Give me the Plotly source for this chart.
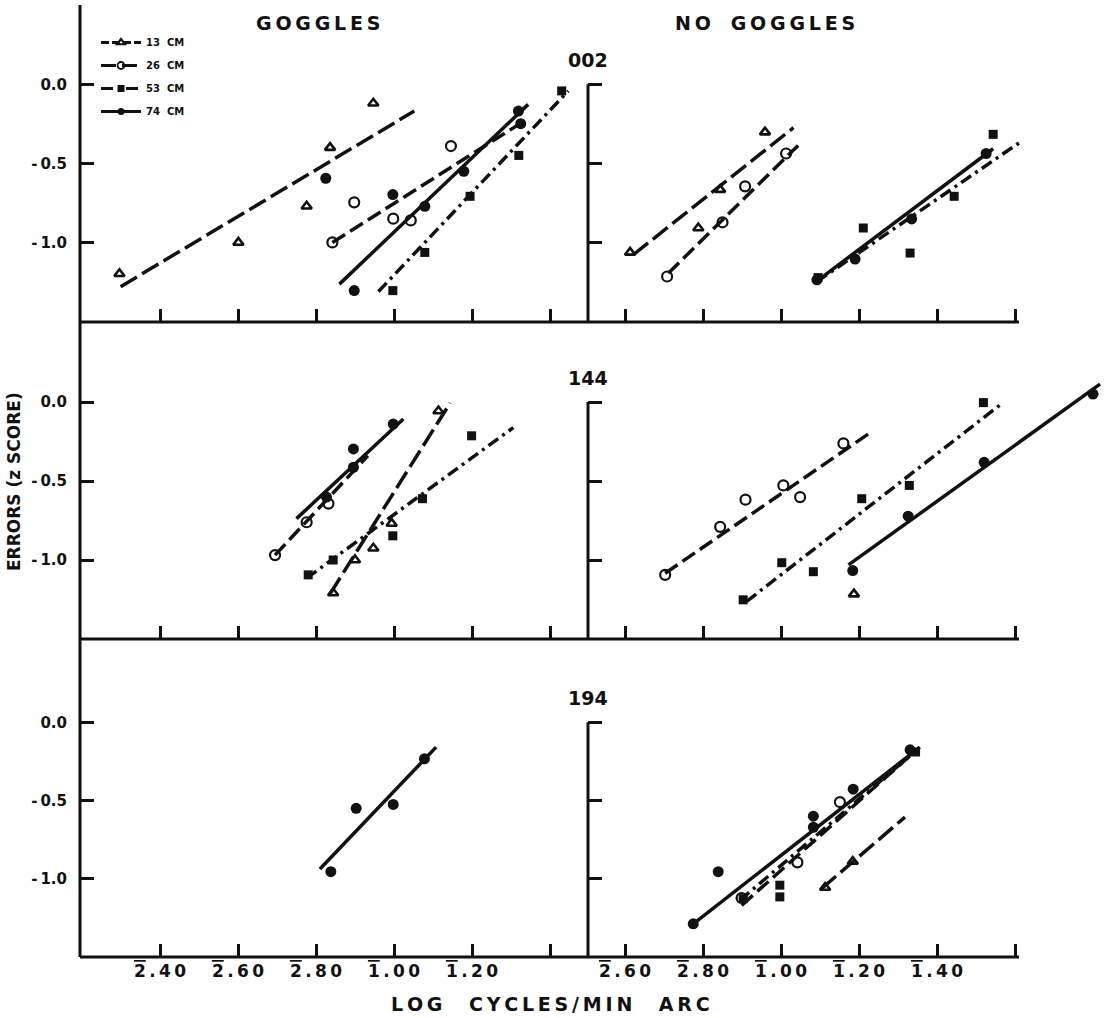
import plotly.graph_objects as go

W, H = 1108, 1018

# ---------------- data: x = log cycles/min arc, y = errors (z score) ----------------
# tick labels (bar-notation logarithms: characteristic digit, rest)
LEFT_TICKVALS = [-1.6, -1.4, -1.2, -1.0, -0.8, -0.6]
LEFT_TICKTEXT = [("2", ".40"), ("2", ".60"), ("2", ".80"), ("1", ".00"), ("1", ".20"), ("", "")]
RIGHT_TICKVALS = [-1.4, -1.2, -1.0, -0.8, -0.6, -0.4]
RIGHT_TICKTEXT = [("2", ".60"), ("2", ".80"), ("1", ".00"), ("1", ".20"), ("1", ".40"), ("", "")]
Y_TICKVALS = [0.0, -0.5, -1.0]
Y_TICKTEXT = ["0.0", "-\u20090.5", "-\u20091.0"]

SERIES = ["13", "26", "53", "74"]
SERIES_NAMES = ["13  CM", "26  CM", "53  CM", "74  CM"]
COLUMNS = ["GOGGLES", "NO GOGGLES"]
SUBJECTS = ["002", "144", "194"]

# --- subject 002, goggles
G002_13_X = [-1.704, -1.399, -1.224, -1.164, -1.053]
G002_13_Y = [-1.196, -0.998, -0.770, -0.400, -0.120]
G002_13_FX = [-1.701, -0.948]
G002_13_FY = [-1.277, -0.169]
G002_26_X = [-1.158, -1.102, -1.002, -0.957, -0.854]
G002_26_Y = [-0.998, -0.745, -0.848, -0.859, -0.390]
G002_26_FX = [-1.158, -0.672]
G002_26_FY = [-0.998, -0.241]
G002_53_X = [-1.003, -0.921, -0.805, -0.680, -0.570]
G002_53_Y = [-1.302, -1.061, -0.707, -0.449, -0.042]
G002_53_FX = [-1.040, -0.553]
G002_53_FY = [-1.308, -0.042]
G002_74_X = [-1.175, -1.102, -1.003, -0.921, -0.821, -0.681, -0.675]
G002_74_Y = [-0.593, -1.302, -0.696, -0.770, -0.549, -0.169, -0.249]
G002_74_FX = [-1.140, -0.656]
G002_74_FY = [-1.261, -0.127]

# --- subject 002, no goggles
N002_13_X = [-1.387, -1.212, -1.156, -1.041]
N002_13_Y = [-1.061, -0.907, -0.665, -0.302]
N002_13_FX = [-1.379, -0.968]
N002_13_FY = [-1.076, -0.274]
N002_26_X = [-1.292, -1.150, -1.092, -0.987]
N002_26_Y = [-1.213, -0.871, -0.644, -0.437]
N002_26_FX = [-1.289, -0.956]
N002_26_FY = [-1.192, -0.386]
N002_53_X = [-0.905, -0.789, -0.669, -0.556, -0.456]
N002_53_Y = [-1.220, -0.907, -1.065, -0.707, -0.316]
N002_53_FX = [-0.908, -0.383]
N002_53_FY = [-1.245, -0.359]
N002_74_X = [-0.908, -0.810, -0.665, -0.474]
N002_74_Y = [-1.234, -1.103, -0.850, -0.437]
N002_74_FX = [-0.913, -0.456]
N002_74_FY = [-1.251, -0.407]

# --- subject 144, goggles
G144_13_X = [-1.156, -1.100, -1.053, -1.006, -0.886]
G144_13_Y = [-1.209, -1.000, -0.926, -0.769, -0.057]
G144_13_FX = [-1.164, -0.856]
G144_13_FY = [-1.214, -0.006]
G144_26_X = [-1.305, -1.224, -1.168]
G144_26_Y = [-0.969, -0.761, -0.643]
G144_26_FX = [-1.305, -1.067]
G144_26_FY = [-0.969, -0.340]
G144_53_X = [-1.220, -1.156, -1.003, -0.927, -0.801]
G144_53_Y = [-1.094, -1.000, -0.847, -0.612, -0.214]
G144_53_FX = [-1.224, -0.694]
G144_53_FY = [-1.115, -0.162]
G144_74_X = [-1.173, -1.104, -1.104, -1.002]
G144_74_Y = [-0.602, -0.297, -0.413, -0.140]
G144_74_FX = [-1.250, -0.976]
G144_74_FY = [-0.738, -0.107]

# --- subject 144, no goggles
N144_13_X = [-0.813]
N144_13_Y = [-1.216]
N144_13_FX = []
N144_13_FY = []
N144_26_X = [-1.297, -1.156, -1.091, -0.994, -0.951, -0.840]
N144_26_Y = [-1.094, -0.790, -0.618, -0.528, -0.602, -0.262]
N144_26_FX = [-1.297, -0.774]
N144_26_FY = [-1.084, -0.199]
N144_53_X = [-1.097, -0.998, -0.917, -0.793, -0.671, -0.481]
N144_53_Y = [-1.252, -1.017, -1.074, -0.612, -0.528, -0.004]
N144_53_FX = [-1.088, -0.434]
N144_53_FY = [-1.262, -0.010]
N144_74_X = [-0.816, -0.674, -0.479, -0.200]
N144_74_Y = [-1.067, -0.723, -0.382, 0.050]
N144_74_FX = [-0.827, -0.182]
N144_74_FY = [-1.031, 0.113]

# --- subject 194, goggles
G194_13_X, G194_13_Y, G194_13_FX, G194_13_FY = [], [], [], []
G194_26_X, G194_26_Y, G194_26_FX, G194_26_FY = [], [], [], []
G194_53_X, G194_53_Y, G194_53_FX, G194_53_FY = [], [], [], []
G194_74_X = [-1.162, -1.097, -1.002, -0.922]
G194_74_Y = [-0.955, -0.550, -0.525, -0.234]
G194_74_FX = [-1.190, -0.892]
G194_74_FY = [-0.938, -0.159]

# --- subject 194, no goggles
N194_13_X = [-0.887, -0.816]
N194_13_Y = [-1.056, -0.890]
N194_13_FX = [-0.896, -0.682]
N194_13_FY = [-1.063, -0.606]
N194_26_X = [-1.101, -0.958, -0.849]
N194_26_Y = [-1.123, -0.895, -0.510]
N194_26_FX = [-1.101, -0.652]
N194_26_FY = [-1.170, -0.176]
N194_53_X = [-1.097, -1.003, -1.003, -0.655]
N194_53_Y = [-1.127, -1.041, -1.116, -0.190]
N194_53_FX = [-1.105, -0.648]
N194_53_FY = [-1.137, -0.170]
N194_74_X = [-1.225, -1.161, -0.917, -0.917, -0.815, -0.669]
N194_74_Y = [-1.288, -0.955, -0.600, -0.671, -0.428, -0.176]
N194_74_FX = [-1.225, -0.644]
N194_74_FY = [-1.288, -0.159]

# ---------------- styling ----------------
FONT = "DejaVu Sans"
BLACK = "#111111"
LW = 3.5
STYLE = {
    "13": dict(symbol="triangle-up-open", size=9, dash="19px,6px", mlw=2.6),
    "26": dict(symbol="circle-open", size=10, dash="15px,6px", mlw=2.2),
    "53": dict(symbol="square", size=9, dash="12px,5px,3px,5px", mlw=0),
    "74": dict(symbol="circle", size=11, dash="solid", mlw=0),
}


def bar_label(parts):
    head, rest = parts
    if not head:
        return ""
    # overline on the characteristic digit, then thin-spaced rest
    return ('<span style="text-decoration:overline">' + head + "</span>"
            + "\u2009" + "\u2009".join(list(rest)))


def spaced(t):
    return "\u2009".join(list(t))


g = globals()
fig = go.Figure()

# axis geometry (pixels of a 1108x1018 canvas)
X_DOM = [[80 / W, 588 / W], [588 / W, 1105 / W]]
X_RANGE = [[-1.6 - 80 / 390, -1.6 + 428 / 390], [-1.4 - 37 / 390, -1.4 + 480 / 390]]
Y_DOM = [[1 - 322 / H, 1 - 5 / H], [1 - 639 / H, 1 - 323 / H], [1 - 957 / H, 1 - 644 / H]]
Y_RANGE = [-1.5, 0.5]

layout = dict(
    width=W, height=H, margin=dict(l=0, r=0, t=0, b=0),
    paper_bgcolor="white", plot_bgcolor="white",
    font=dict(family=FONT, color=BLACK, weight="bold"),
    showlegend=True,
)
shapes = []
annotations = []

for r, subj in enumerate(SUBJECTS):
    for c in range(2):
        idx = r * 2 + c + 1
        xa = "x" if idx == 1 else f"x{idx}"
        ya = "y" if idx == 1 else f"y{idx}"
        xkey = "xaxis" if idx == 1 else f"xaxis{idx}"
        ykey = "yaxis" if idx == 1 else f"yaxis{idx}"
        last_row = r == 2
        layout[xkey] = dict(
            domain=X_DOM[c], range=X_RANGE[c], anchor=ya,
            showgrid=False, zeroline=False, showline=False,
            tickmode="array",
            tickvals=LEFT_TICKVALS if c == 0 else RIGHT_TICKVALS,
            ticktext=[bar_label(t) for t in (LEFT_TICKTEXT if c == 0 else RIGHT_TICKTEXT)],
            showticklabels=last_row,
            ticks="inside", ticklen=13, tickwidth=3, tickcolor=BLACK,
            tickfont=dict(size=17, family=FONT, color=BLACK, weight="bold"),
            ticklabelstandoff=2,
        )
        layout[ykey] = dict(
            domain=Y_DOM[r], range=Y_RANGE, anchor=xa,
            showgrid=False, zeroline=False, showline=False,
            tickmode="array", tickvals=Y_TICKVALS, ticktext=Y_TICKTEXT,
            showticklabels=(c == 0),
            ticks="inside", ticklen=14, tickwidth=3, tickcolor=BLACK,
            tickfont=dict(size=15, family=FONT, color=BLACK, weight="bold"),
            ticklabelstandoff=12,
        )
        if c == 0:
            # bottom axis line of the row (spans both panels)
            shapes.append(dict(type="line", xref="paper", yref=f"{ya} domain",
                               x0=80 / W, x1=1019 / W, y0=0, y1=0,
                               line=dict(color=BLACK, width=3)))
        else:
            # vertical axis of the right-hand panel (from 0.0 down)
            shapes.append(dict(type="line", xref=f"{xa} domain", yref=ya,
                               x0=0, x1=0, y0=0, y1=Y_RANGE[0],
                               line=dict(color=BLACK, width=3)))
            annotations.append(dict(text=subj, xref=f"{xa} domain", yref=ya,
                                    x=0, y=0, yshift=24, xanchor="center", yanchor="middle",
                                    showarrow=False,
                                    font=dict(size=19, family=FONT, color=BLACK, weight="bold")))

        prefix = ("G" if c == 0 else "N") + subj
        for s in SERIES:
            st = STYLE[s]
            fx, fy = g[f"{prefix}_{s}_FX"], g[f"{prefix}_{s}_FY"]
            px, py = g[f"{prefix}_{s}_X"], g[f"{prefix}_{s}_Y"]
            if fx:
                fig.add_trace(go.Scatter(
                    x=fx, y=fy, mode="lines", xaxis=xa, yaxis=ya, showlegend=False,
                    line=dict(color=BLACK, width=LW, dash=st["dash"]), hoverinfo="skip"))
            if px:
                fig.add_trace(go.Scatter(
                    x=px, y=py, mode="markers", xaxis=xa, yaxis=ya, showlegend=False,
                    cliponaxis=False,
                    marker=dict(symbol=st["symbol"], size=st["size"], color=BLACK,
                                line=dict(color=BLACK, width=st["mlw"]))))

# left vertical axis line spanning all rows
shapes.append(dict(type="line", xref="x domain", yref="paper", x0=0, x1=0,
                   y0=1 - 957 / H, y1=1 - 5 / H, line=dict(color=BLACK, width=3)))

# legend entries
for s, name in zip(SERIES, SERIES_NAMES):
    st = STYLE[s]
    fig.add_trace(go.Scatter(
        x=[None], y=[None], mode="lines+markers", name=name, legendgroup=s,
        line=dict(color=BLACK, width=3, dash=st["dash"] if s != "13" else "8px,3px"),
        marker=dict(symbol=st["symbol"], size=7, color=BLACK,
                    line=dict(color=BLACK, width=st["mlw"] * 0.8))))

annotations += [
    dict(text=spaced("GOGGLES"), x=318 / W, y=1 - 23 / H, xref="paper", yref="paper",
         xanchor="center", yanchor="middle", showarrow=False,
         font=dict(size=19, family=FONT, color=BLACK, weight="bold")),
    dict(text=spaced("NO") + "   " + spaced("GOGGLES"), x=765 / W, y=1 - 23 / H,
         xref="paper", yref="paper", xanchor="center", yanchor="middle", showarrow=False,
         font=dict(size=19, family=FONT, color=BLACK, weight="bold")),
    dict(text="ERRORS (z SCORE)", x=14 / W, y=1 - 482 / H, xref="paper", yref="paper",
         xanchor="center", yanchor="middle", textangle=-90, showarrow=False,
         font=dict(size=17, family=FONT, color=BLACK, weight="bold")),
    dict(text=spaced("LOG") + "    " + spaced("CYCLES/MIN") + "    " + spaced("ARC"),
         x=550 / W, y=1 - 1004 / H, xref="paper", yref="paper",
         xanchor="center", yanchor="middle", showarrow=False,
         font=dict(size=19, family=FONT, color=BLACK, weight="bold")),
]

layout["shapes"] = shapes
layout["annotations"] = annotations
layout["legend"] = dict(x=96 / W, y=1 - 28 / H, xanchor="left", yanchor="top",
                        font=dict(size=10, family=FONT, color=BLACK, weight="bold"),
                        tracegroupgap=4, itemwidth=40, bgcolor="rgba(0,0,0,0)")
fig.update_layout(**layout)

fig.write_html("out.html", config={"displayModeBar": False},
               post_script="document.body.style.margin='0';document.body.style.overflow='hidden';")
